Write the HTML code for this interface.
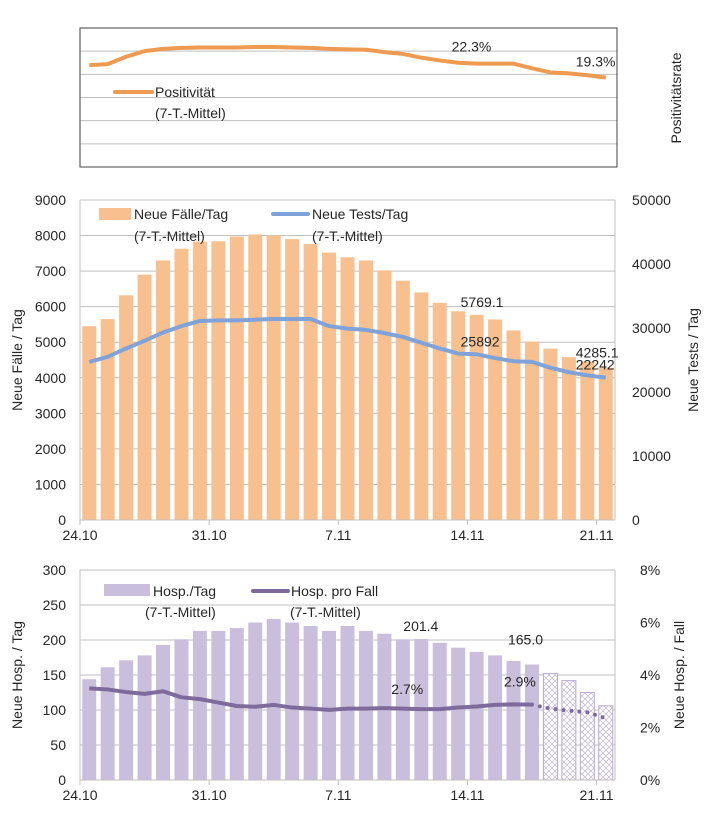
<!DOCTYPE html>
<html><head><meta charset="utf-8"><style>
body{margin:0;background:#fff;}
svg{display:block;font-family:"Liberation Sans",sans-serif;}
</style></head><body>
<svg id="c" width="709" height="833" viewBox="0 0 709 833" xmlns="http://www.w3.org/2000/svg">
<defs>
<pattern id="hatch" width="6" height="6" patternUnits="userSpaceOnUse">
<rect width="6" height="6" fill="#fff"/>
<path d="M0,6 L6,0 M-1,1 L1,-1 M5,7 L7,5 M0,0 L6,6" stroke="#c3b6da" stroke-width="0.7"/>
</pattern>
</defs>
</svg>
<script>
const dateLabels=["24.10","31.10","7.11","14.11","21.11"];
const positivity=[22.0,22.2,23.8,25.0,25.5,25.7,25.8,25.8,25.8,25.9,25.9,25.8,25.7,25.5,25.4,25.3,24.8,24.4,23.6,23.0,22.5,22.3,22.3,22.3,21.3,20.4,20.2,19.8,19.3];
const cases=[5450,5650,6320,6900,7300,7630,7830,7840,7970,8030,8000,7900,7760,7520,7390,7300,7020,6730,6400,6110,5870,5769.1,5640,5330,5020,4820,4580,4450,4285.1];
const tests=[24700,25500,26800,28000,29300,30300,31100,31200,31200,31300,31400,31400,31400,30300,29900,29700,29200,28600,27700,26800,26000,25892,25300,24800,24700,23800,23100,22600,22242];
const hosp=[144,161,171,178,193,201,213,213,217,225,230,225,220,213,220,213,209,201,201.4,196,189,183,178,170,165.0,152,142,125,106];
const hospRate=[3.49,3.45,3.35,3.28,3.38,3.15,3.08,2.95,2.82,2.79,2.86,2.76,2.72,2.67,2.72,2.72,2.74,2.72,2.70,2.70,2.76,2.80,2.86,2.88,2.87,2.72,2.64,2.58,2.35];
const leftTicksMid=[0,1000,2000,3000,4000,5000,6000,7000,8000,9000];
const rightTicksMid=[0,10000,20000,30000,40000,50000];
const leftTicksBot=[0,50,100,150,200,250,300];
const rightTicksBot=[0,2,4,6,8];

const svg=document.getElementById('c');
const NS="http://www.w3.org/2000/svg";
function mk(t,a,p){const e=document.createElementNS(NS,t);for(const k in a)e.setAttribute(k,a[k]);(p||svg).appendChild(e);return e;}
const X0=80,X1=615,N=29,STEP=(X1-X0)/N;
const xc=i=>X0+STEP*(i+0.5);
const xe=i=>X0+STEP*i;

// ---- top panel
const T0=28,T1=167;
const yTop=v=>T1-(v/30)*(T1-T0);
for(let k=1;k<6;k++){const g=mk('line',{x1:X0,x2:X1+2,y1:yTop(k*5),y2:yTop(k*5),stroke:'#bfbfbf','stroke-width':1});

}
let r=mk('rect',{x:X0,y:T0,width:X1+2-X0,height:T1-T0,fill:'none',stroke:'#404040','stroke-width':1});


let p=mk('polyline',{points:positivity.map((v,i)=>xc(i)+','+yTop(v)).join(' '),fill:'none',stroke:'#ee9a50','stroke-width':4,'stroke-linejoin':'round'});


function txt(x,y,s,o){const t=mk('text',Object.assign({x:x,y:y,'font-size':14,fill:'#262626'},o||{}));t.textContent=s;return t;}
let t=txt(xc(21)-25,yTop(positivity[21])-12,positivity[21].toFixed(1)+'%');


t=txt(xc(28)-30,yTop(positivity[28])-11,positivity[28].toFixed(1)+'%');


let l=mk('line',{x1:115,x2:152,y1:92,y2:92,stroke:'#ee9a50','stroke-width':4,'stroke-linecap':'round'});


t=txt(155,97,'Positivität');


t=txt(155,118,'(7-T.-Mittel)');


t=txt(0,0,'Positivitätsrate',{transform:'translate(681,98) rotate(-90)','text-anchor':'middle'});



// ---- middle chart
const M0=200,M1=520;
const yL=v=>M1-v/9000*(M1-M0);
const yR=v=>M1-v/50000*(M1-M0);
leftTicksMid.forEach(v=>{
 if(v>0){const g=mk('line',{x1:X0,x2:X1,y1:yL(v),y2:yL(v),stroke:'#bfbfbf'});
 
 }
 const tt=txt(66,yL(v)+5,String(v),{'text-anchor':'end'});
 
 
});
rightTicksMid.forEach(v=>{
 const tt=txt(632,yR(v)+5,String(v));
 
 
});
cases.forEach((v,i)=>{
 const b=mk('rect',{x:xc(i)-7,y:yL(v),width:14,height:M1-yL(v),fill:'#f8bf8f'});
 
 
});
p=mk('polyline',{points:tests.map((v,i)=>xc(i)+','+yR(v)).join(' '),fill:'none',stroke:'#7fa3d8','stroke-width':4,'stroke-linejoin':'round'});


function axes(y0,y1,nm){
 let a=mk('line',{x1:X0,x2:X0,y1:y0,y2:y1,stroke:'#bfbfbf'});
 
 
 a=mk('line',{x1:X1,x2:X1,y1:y0,y2:y1,stroke:'#bfbfbf'});
 
 
 a=mk('line',{x1:X0,x2:X1,y1:y1,y2:y1,stroke:'#bfbfbf'});
 
 
 dateLabels.forEach((d,k)=>{
  const tk=mk('line',{x1:xe(k*7),x2:xe(k*7),y1:y1,y2:y1+5,stroke:'#bfbfbf'});
  
  
  const tt=txt(xe(k*7),y1+20,d,{'text-anchor':'middle'});
  
  
 });
}
axes(M0,M1,'mid');
t=txt(xc(21)-16,yL(cases[21])-8,cases[21].toFixed(1));


t=txt(xc(21)-16,yR(tests[21])-8,String(tests[21]));


t=txt(xc(28)-30,yL(cases[28])-10,cases[28].toFixed(1));


t=txt(xc(28)-30,yR(tests[28])-8,String(tests[28]));


r=mk('rect',{x:99,y:208,width:32,height:12,fill:'#f8bf8f'});


t=txt(134,219,'Neue Fälle/Tag');


t=txt(134,241,'(7-T.-Mittel)');


l=mk('line',{x1:273,x2:308,y1:214,y2:214,stroke:'#7fa3d8','stroke-width':4,'stroke-linecap':'round'});


t=txt(312,219,'Neue Tests/Tag');


t=txt(312,241,'(7-T.-Mittel)');


t=txt(0,0,'Neue Fälle / Tag',{transform:'translate(22,360) rotate(-90)','text-anchor':'middle'});


t=txt(0,0,'Neue Tests / Tag',{transform:'translate(698,360) rotate(-90)','text-anchor':'middle'});



// ---- bottom chart
const B0=570,B1=780;
const yBL=v=>B1-v/300*(B1-B0);
const yBR=v=>B1-v/8*(B1-B0);
leftTicksBot.forEach(v=>{
 if(v>0){const g=mk('line',{x1:X0,x2:X1,y1:yBL(v),y2:yBL(v),stroke:'#bfbfbf'});
 
 }
 const tt=txt(66,yBL(v)+5,String(v),{'text-anchor':'end'});
 
 
});
rightTicksBot.forEach(v=>{
 const tt=txt(640,yBR(v)+5,v+'%');
 
 
});
hosp.forEach((v,i)=>{
 const proj=i>=25;
 const b=mk('rect',{x:xc(i)-7,y:yBL(v),width:14,height:B1-yBL(v),fill:proj?'url(#hatch)':'#c9bedb',stroke:proj?'#b9a9d3':'none','stroke-width':1});
 
 
});
p=mk('polyline',{points:hospRate.slice(0,25).map((v,i)=>xc(i)+','+yBR(v)).join(' '),fill:'none',stroke:'#7e6b9c','stroke-width':4,'stroke-linejoin':'round'});


p=mk('polyline',{points:hospRate.slice(24).map((v,i)=>xc(i+24)+','+yBR(v)).join(' '),fill:'none',stroke:'#7e6b9c','stroke-width':4,'stroke-dasharray':'0 8','stroke-linecap':'round'});


axes(B0,B1,'bottom');
t=txt(xc(18)-18,yBL(hosp[18])-8,hosp[18].toFixed(1));


t=txt(xc(24)-24,yBL(hosp[24])-20,hosp[24].toFixed(1));


t=txt(xc(18)-30,yBR(hospRate[18])-15,hospRate[18].toFixed(1)+'%');


t=txt(xc(24)-28,yBR(hospRate[24])-18,hospRate[24].toFixed(1)+'%');


r=mk('rect',{x:104,y:584,width:46,height:12,fill:'#c9bedb'});


t=txt(153,596,'Hosp./Tag');


t=txt(145,617,'(7-T.-Mittel)');


l=mk('line',{x1:253,x2:288,y1:591,y2:591,stroke:'#7e6b9c','stroke-width':4,'stroke-linecap':'round'});


t=txt(291,596,'Hosp. pro Fall');


t=txt(290,617,'(7-T.-Mittel)');


t=txt(0,0,'Neue Hosp. / Tag',{transform:'translate(22,675) rotate(-90)','text-anchor':'middle'});


t=txt(0,0,'Neue Hosp. / Fall',{transform:'translate(684,675) rotate(-90)','text-anchor':'middle'});


</script>
</body></html>
